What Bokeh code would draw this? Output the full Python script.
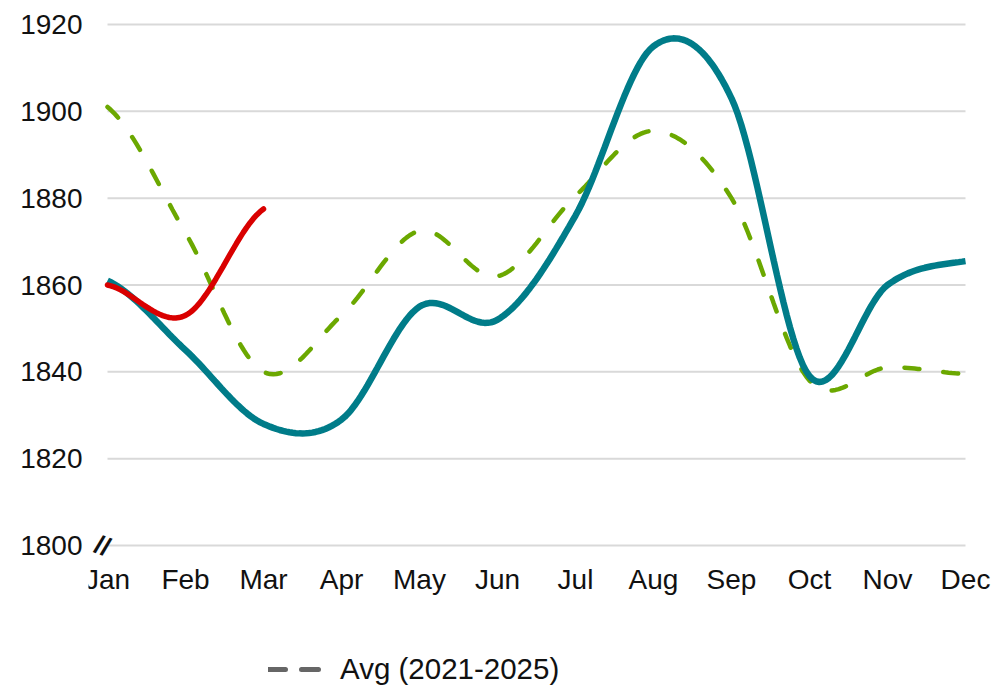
import numpy as np
from bokeh.plotting import figure
from bokeh.models import Range1d, FixedTicker, Legend, LegendItem, Label
from bokeh.embed import file_html
from bokeh.resources import INLINE

months = ["Jan", "Feb", "Mar", "Apr", "May", "Jun", "Jul", "Aug", "Sep", "Oct", "Nov", "Dec"]
prev_year = [1861, 1845, 1828, 1829, 1855, 1852, 1876, 1915, 1903, 1839, 1860, 1865.5]
avg_5y = [1901, 1872, 1840, 1853, 1872.5, 1862, 1880.5, 1895.5, 1880, 1838, 1841, 1839.5]
current = [1860, 1853, 1877.5]
y_ticks = [1800, 1820, 1840, 1860, 1880, 1900, 1920]

FONT = "Liberation Sans"
W, H = 1008, 688

# pixel layout: Jan..Dec span px 107..965, 1800..1920 span px 545..24
X0PX, X1PX = 107, 965
Y0PX, Y1PX = 545, 24
FL, FR, FT, FB = 88, 1004, 4, 688   # frame edges in px
ux = (X1PX - X0PX) / 11.0
uy = (Y0PX - Y1PX) / 120.0
x_start = 0 - (X0PX - FL) / ux
x_end = 11 + (FR - X1PX) / ux
y_start = 1800 - (FB - Y0PX) / uy
y_end = 1920 + (Y1PX - FT) / uy


def smooth(vals, n=24):
    """Excel-style smoothed line: cubic Bezier through each monthly point."""
    v = np.asarray(vals, dtype=float)
    x = np.arange(len(v), dtype=float)
    xs, ys = [], []
    for i in range(len(v) - 1):
        p0 = v[i - 1] if i > 0 else v[i]
        p3 = v[i + 2] if i + 2 < len(v) else v[i + 1]
        c1 = v[i] + (v[i + 1] - p0) / 6.0
        c2 = v[i + 1] - (p3 - v[i]) / 6.0
        t = np.linspace(0, 1, n, endpoint=(i == len(v) - 2))
        b = ((1 - t) ** 3) * v[i] + 3 * ((1 - t) ** 2) * t * c1 + 3 * (1 - t) * t ** 2 * c2 + t ** 3 * v[i + 1]
        xs.append(x[i] + t)
        ys.append(b)
    return np.concatenate(xs), np.concatenate(ys)


p = figure(width=W, height=H, output_backend="svg", toolbar_location=None,
           x_range=Range1d(x_start, x_end), y_range=Range1d(y_start, y_end),
           min_border_left=FL, min_border_right=W - FR, min_border_top=FT, min_border_bottom=H - FB)
p.outline_line_color = None
p.background_fill_color = "white"
p.border_fill_color = "white"

# grid (drawn only across Jan..Dec)
p.xgrid.grid_line_color = None
p.ygrid.grid_line_color = None
p.segment(x0=[0] * len(y_ticks), y0=y_ticks, x1=[11] * len(y_ticks), y1=y_ticks,
          line_color="#D9D9D9", line_width=2)

p.yaxis.ticker = FixedTicker(ticks=y_ticks)
p.xaxis.ticker = FixedTicker(ticks=list(range(12)))
p.xaxis.major_label_overrides = {i: m for i, m in enumerate(months)}
p.xaxis.fixed_location = 1800

for ax in (p.xaxis, p.yaxis):
    ax.axis_line_color = None
    ax.major_tick_line_color = None
    ax.minor_tick_line_color = None
    ax.major_tick_out = 0
    ax.major_tick_in = 0
    ax.major_label_text_font = FONT
    ax.major_label_text_font_size = "28px"
    ax.major_label_text_color = "#111111"
p.yaxis.major_label_standoff = FL - 82
p.xaxis.major_label_standoff = 18

# series
xa, ya = smooth(avg_5y)
p.line(xa, ya, line_color="#6BA800", line_width=4.5, line_dash="15 24", line_cap="round")

xp, yp = smooth(prev_year)
p.line(xp, yp, line_color="#007C89", line_width=6.5)

xc, yc = smooth(current)
p.line(xc, yc, line_color="#D90000", line_width=5.5, line_cap="round")

# legend entry (gray dashed symbol); NaN data so nothing is drawn in the plot
dummy = p.line([np.nan], [np.nan], line_color="#666666", line_width=5, line_dash="17 16", line_cap="round")
legend = Legend(items=[LegendItem(label="Avg (2021-2025)", renderers=[dummy])],
                location=(268 - FL, FB - 686), orientation="horizontal",
                padding=0, margin=0, spacing=0,
                glyph_width=60, glyph_height=30, label_standoff=12, label_height=30,
                label_text_font=FONT, label_text_font_size="29.5px",
                label_text_color="#111111", label_text_baseline="middle",
                border_line_color=None, background_fill_alpha=0)
p.add_layout(legend, "center")

# axis break marker
brk = Label(x=0, y=1800, x_offset=-5, y_offset=0, text="//", text_font=FONT,
            text_font_size="26px", text_font_style="bold", text_color="#111111",
            text_align="center", text_baseline="middle", angle=-0.35)
p.add_layout(brk)

open("out.html", "w").write(file_html(p, INLINE))
